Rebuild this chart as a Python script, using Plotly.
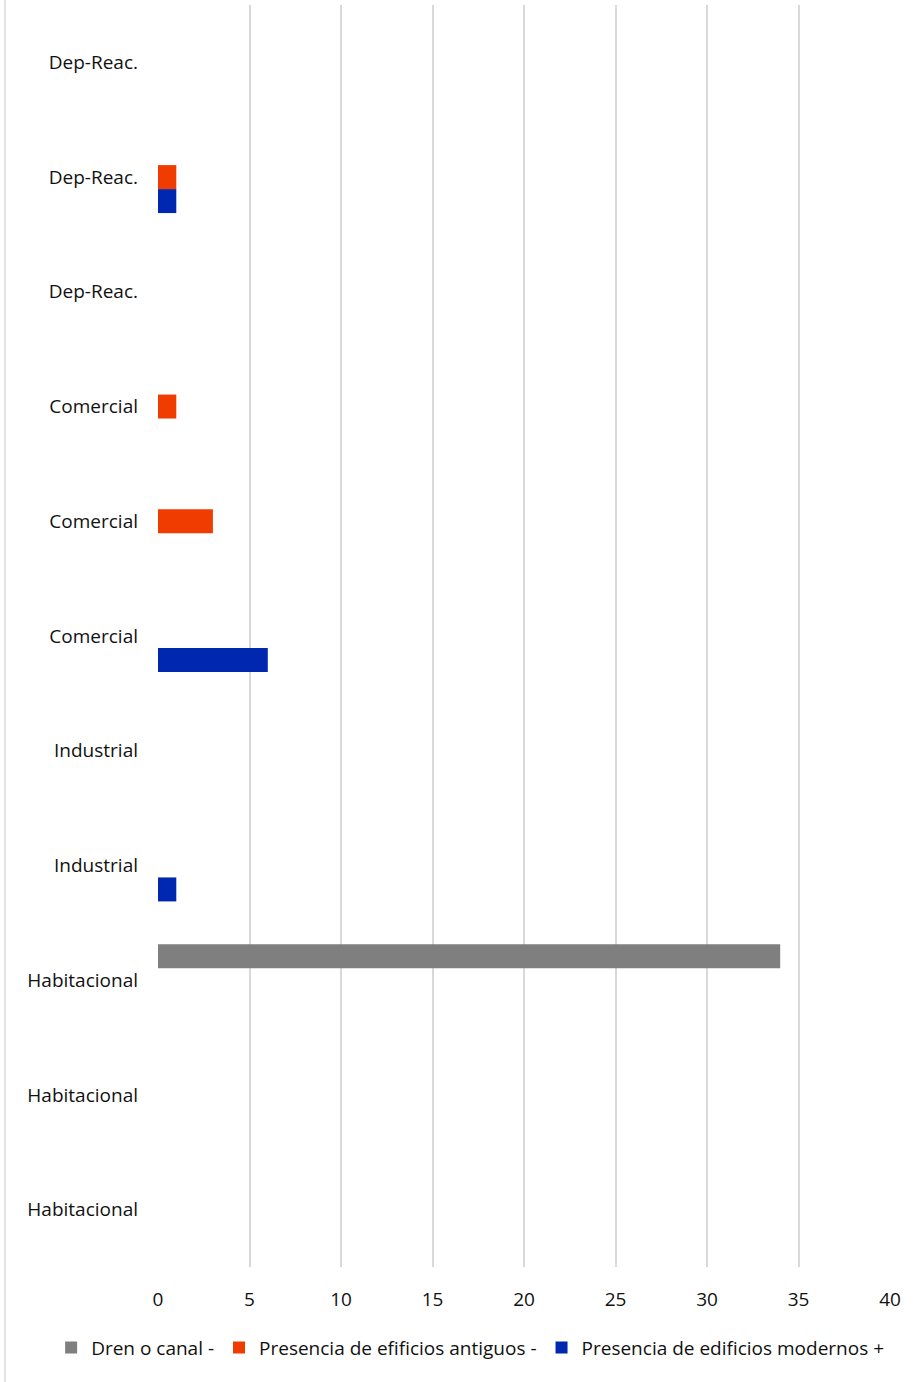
import plotly.graph_objects as go

categories = ["Habitacional", "Habitacional", "Habitacional", "Industrial", "Industrial",
              "Comercial", "Comercial", "Comercial", "Dep-Reac.", "Dep-Reac.", "Dep-Reac."]
positions = list(range(len(categories)))

dren = [0, 0, 34, 0, 0, 0, 0, 0, 0, 0, 0]
antiguos = [0, 0, 0, 0, 0, 0, 3, 1, 0, 1, 0]
modernos = [0, 0, 0, 1, 0, 6, 0, 0, 0, 1, 0]

x_ticks = [0, 5, 10, 15, 20, 25, 30, 35, 40]

FONT = "Open Sans"
FS = 19

fig = go.Figure()
fig.add_trace(go.Bar(y=positions, x=modernos, orientation="h",
                     name="Presencia de edificios modernos +",
                     marker=dict(color="#0027b0", line=dict(width=0)), legendrank=3))
fig.add_trace(go.Bar(y=positions, x=antiguos, orientation="h",
                     name="Presencia de efificios antiguos -",
                     marker=dict(color="#f03c00", line=dict(width=0)), legendrank=2))
fig.add_trace(go.Bar(y=positions, x=dren, orientation="h",
                     name="Dren o canal -",
                     marker=dict(color="#7f7f7f", line=dict(width=0)), legendrank=1))

fig.update_layout(
    width=921, height=1382,
    margin=dict(l=158, r=31, t=5, b=115),
    paper_bgcolor="white", plot_bgcolor="white",
    barmode="group", bargap=0.373, bargroupgap=0,
    font=dict(family=FONT, size=FS, color="#111111"),
    showlegend=True,
    legend=dict(orientation="h", x=-0.146, xanchor="left", y=-0.064, yanchor="middle",
                font=dict(family=FONT, size=19, color="#111111"),
                itemwidth=30, tracegroupgap=0),
    xaxis=dict(range=[0, 40], tickvals=x_ticks, showgrid=True, gridcolor="#d9d9d9",
               gridwidth=1.5, zeroline=False, showline=False, ticks="",
               ticklabelstandoff=19, fixedrange=True),
    yaxis=dict(range=[-0.5, 10.5], tickvals=positions, ticktext=categories,
               showgrid=False, zeroline=False, showline=False, ticks="",
               ticklabelstandoff=19, fixedrange=True),
    shapes=[dict(type="line", xref="paper", yref="paper",
                 x0=-0.209, x1=-0.209, y0=-0.2, y1=1.1,
                 line=dict(color="#d9d9d9", width=1.5))],
)

fig.write_html("out.html", config={"displayModeBar": False},
               post_script="document.body.style.margin='0px';")
